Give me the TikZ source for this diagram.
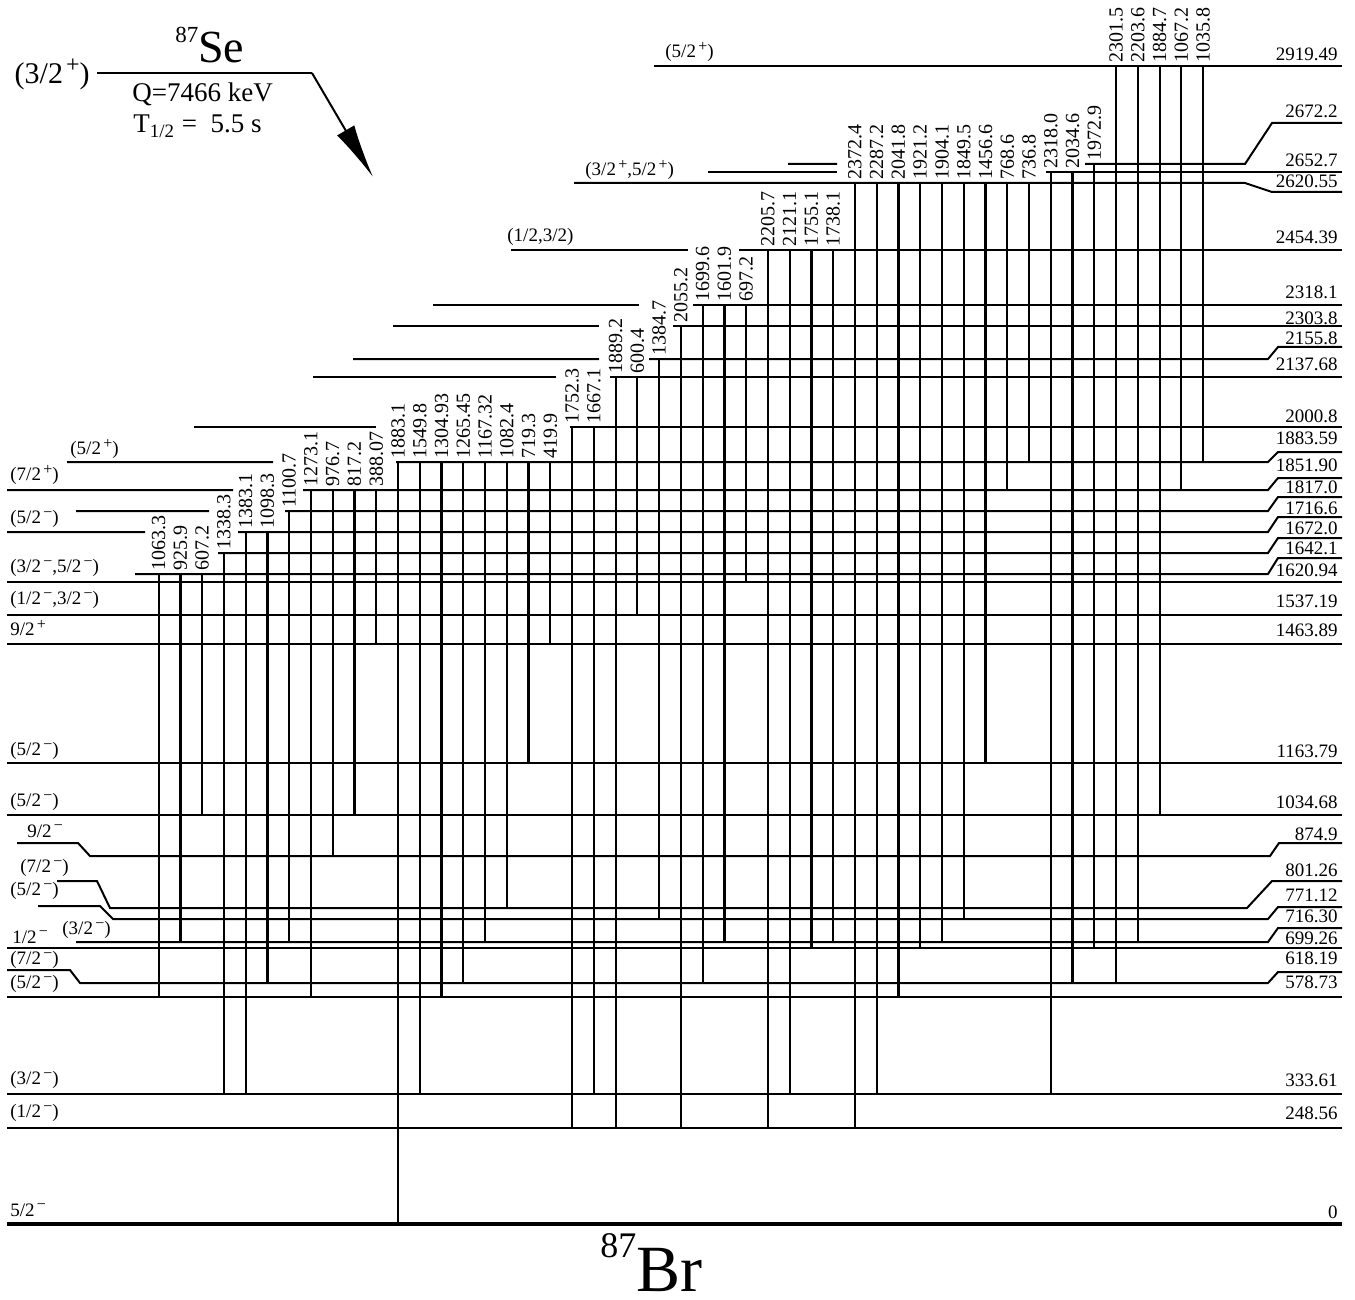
\documentclass[tikz,border=0pt]{standalone}
\usepackage{fontspec}
\setmainfont{Liberation Serif}
\usetikzlibrary{arrows.meta,calc}
\newcommand{\up}[1]{\kern0.12em\raisebox{0.75ex}{\fontsize{8}{9}\selectfont #1}}

\begin{document}
\begin{tikzpicture}[
  x=0.5pt, y=-0.5pt,
  font=\fontsize{9.5}{11}\selectfont,
  lev/.style={line width=1pt},
  gam/.style={line width=1.1pt},
  glab/.style={rotate=90,anchor=west,inner sep=1.2pt,font=\fontsize{10}{11}\selectfont},
  elab/.style={anchor=east,inner sep=0pt},
  slab/.style={anchor=west,inner sep=0pt},
  big/.style={anchor=base west,inner sep=0pt}
]
\useasboundingbox (0,0) rectangle (1355,1300);
\foreach \e/\y in {0/1224,248/1128,333/1094,578/997,618/983,699/948,716/942,
  771/919,801/908,874/856,1034/815,1163/763,1463/644,1537/615,1620/582,1642/574,
  1672/553,1716/532,1817/511,1851/490,1883/462,2000/427,2137/377,2155/359,
  2303/326,2318/305,2454/250,2620/183,2652/172,2672/164,2919/66}
  \coordinate (l\e) at (0,\y);

% parent
\coordinate (sp) at (97,73);
\coordinate (se0) at (312,73);
\coordinate (betaend) at (373,177);
\draw[lev] (sp) -- (se0);
\draw[lev,-{Latex[length=27pt,width=10pt]}] (se0) -- (betaend);
\node[big] (se) at (175,63) {\raisebox{10pt}{\fontsize{11.5}{12}\selectfont 87}\fontsize{23}{26}\selectfont Se};
\node[anchor=base east,inner sep=0pt] (spar) at (90,84) {\fontsize{15}{17}\selectfont (3/2\kern0.1em\raisebox{0.8ex}{\fontsize{12}{13}\selectfont +})};
\node[big] (qval) at (132,102) {\fontsize{13.5}{15}\selectfont Q=7466 keV};
\node[big] (thalf) at (133,133) {\fontsize{13.5}{15}\selectfont T\textsubscript{1/2} = \ 5.5 s};

% levels
\draw[line width=2.2pt] (7,1224) -- (1342,1224);
\draw[lev] (7,1128) -- (1342,1128);
\draw[lev] (7,1094) -- (1342,1094);
\draw[lev] (7,997) -- (1342,997);
\draw[lev] (7,970) -- (70,970) -- (80,983) -- (1268,983) -- (1278,972) -- (1342,972);
\draw[lev] (7,948) -- (1342,948);
\draw[lev] (76,942) -- (1268,942) -- (1278,928) -- (1342,928);
\draw[lev] (38,906) -- (100,906) -- (113,919) -- (1268,919) -- (1278,907) -- (1342,907);
\draw[lev] (57,881) -- (97,881) -- (110,908) -- (1247,908) -- (1272,881) -- (1342,881);
\draw[lev] (17,843) -- (78,843) -- (90,856) -- (1270,856) -- (1279,843) -- (1342,843);
\draw[lev] (7,815) -- (1342,815);
\draw[lev] (7,763) -- (1342,763);
\draw[lev] (7,644) -- (1342,644);
\draw[lev] (7,615) -- (1342,615);
\draw[lev] (7,582) -- (1342,582);
\draw[lev] (135,574) -- (1268,574) -- (1278,558) -- (1342,558);
\draw[lev] (218,553) -- (1268,553) -- (1278,538) -- (1342,538);
\draw[lev] (7,532) -- (145,532) (238,532) -- (1268,532) -- (1278,517) -- (1342,517);
\draw[lev] (76,511) -- (209,511) (285,511) -- (1268,511) -- (1278,497) -- (1342,497);
\draw[lev] (7,490) -- (233,490) (303,490) -- (1268,490) -- (1278,478) -- (1342,478);
\draw[lev] (67,462) -- (273,462) (396,462) -- (1268,462) -- (1278,452) -- (1342,452);
\draw[lev] (194,427) -- (376,427) (570,427) -- (1342,427);
\draw[lev] (313,377) -- (556,377) (610,377) -- (1342,377);
\draw[lev] (353,359) -- (599,359) (649,359) -- (1268,359) -- (1278,347) -- (1342,347);
\draw[lev] (393,326) -- (599,326) (673,326) -- (1342,326);
\draw[lev] (433,305) -- (639,305) (693,305) -- (1342,305);
\draw[lev] (511,250) -- (688,250) (739,250) -- (1342,250);
\draw[lev] (574,183) -- (1245,183) -- (1272,192) -- (1342,192);
\draw[lev] (708,172) -- (837,172) (1046,172) -- (1342,172);
\draw[lev] (788,164) -- (837,164) (1085,164) -- (1245,164) -- (1272,123) -- (1342,123);
\draw[lev] (654,66) -- (1342,66);

% gamma rays
\foreach \k/\a/\b/\g in {-11/1642/578/1063.3,-10/1642/716/925.9,-9/1642/1034/607.2,
  -8/1672/333/1338.3,-7/1716/333/1383.1,-6/1716/618/1098.3,-5/1817/716/1100.7,
  -4/1851/578/1273.1,-3/1851/874/976.7,-2/1851/1034/817.2,-1/1851/1463/388.07,
  0/1883/0/1883.1,1/1883/333/1549.8,2/1883/578/1304.93,3/1883/618/1265.45,
  4/1883/716/1167.32,5/1883/801/1082.4,6/1883/1163/719.3,7/1883/1463/419.9,
  8/2000/248/1752.3,9/2000/333/1667.1,10/2137/248/1889.2,11/2137/1537/600.4,
  12/2155/771/1384.7,13/2303/248/2055.2,14/2318/618/1699.6,15/2318/716/1601.9,
  16/2318/1620/697.2,17/2454/248/2205.7,18/2454/333/2121.1,19/2454/699/1755.1,
  20/2454/716/1738.1,21/2620/248/2372.4,22/2620/333/2287.2,23/2620/578/2041.8,
  24/2620/699/1921.2,25/2620/716/1904.1,26/2620/771/1849.5,27/2620/1163/1456.6,
  28/2620/1851/768.6,29/2620/1883/736.8,30/2652/333/2318.0,31/2652/618/2034.6,
  32/2672/699/1972.9,33/2919/618/2301.5,34/2919/716/2203.6,35/2919/1034/1884.7,
  36/2919/1851/1067.2,37/2919/1883/1035.8}
  \draw[gam] ($(l\a)+({398+21.76*\k},0)$) -- ($(l\b)+({398+21.76*\k},0)$)
    node[pos=0,glab] (g\k) {\g};

% energies
\foreach \e/\t/\y in {2919/2919.49/54,2672/2672.2/111,2652/2652.7/160,2620/2620.55/181,
  2454/2454.39/237,2318/2318.1/292,2303/2303.8/318,2155/2155.8/338,2137/2137.68/364,
  2000/2000.8/416,1883/1883.59/438,1851/1851.90/465,1817/1817.0/487,1716/1716.6/508,
  1672/1672.0/528,1642/1642.1/548,1620/1620.94/570,1537/1537.19/601,1463/1463.89/630,
  1163/1163.79/751,1034/1034.68/802,874/874.9/834,801/801.26/870,771/771.12/895,
  716/716.30/916,699/699.26/938,618/618.19/958,578/578.73/982,333/333.61/1080,
  248/248.56/1113,0/0/1212}
  \node[elab] (e\e) at (1338,\y) {\t};

% spins
\node[slab] (s2919) at (665,52) {(5/2\up{+})};
\node[slab] (s2620) at (585,170) {(3/2\up{+},5/2\up{+})};
\node[slab] (s2454) at (507,237) {(1/2,3/2)};
\node[slab] (s1883) at (70,449) {(5/2\up{+})};
\node[slab] (s1851) at (10,475) {(7/2\up{+})};
\node[slab] (s1716) at (10,519) {(5/2\up{−})};
\node[slab] (s1620) at (10,568) {(3/2\up{−},5/2\up{−})};
\node[slab] (s1537) at (10,600) {(1/2\up{−},3/2\up{−})};
\node[slab] (s1463) at (10,628) {9/2\up{+}};
\node[slab] (s1163) at (10,751) {(5/2\up{−})};
\node[slab] (s1034) at (10,802) {(5/2\up{−})};
\node[slab] (s874) at (27,831) {9/2\up{−}};
\node[slab] (s801) at (20,868) {(7/2\up{−})};
\node[slab] (s771) at (10,891) {(5/2\up{−})};
\node[slab] (s716) at (62,930) {(3/2\up{−})};
\node[slab] (s699) at (12,937) {1/2\up{−}};
\node[slab] (s618) at (10,960) {(7/2\up{−})};
\node[slab] (s578) at (10,984) {(5/2\up{−})};
\node[slab] (s333) at (10,1080) {(3/2\up{−})};
\node[slab] (s248) at (10,1113) {(1/2\up{−})};
\node[slab] (s0) at (10,1210) {5/2\up{−}};

\node[big] (br) at (600,1291) {\raisebox{17pt}{\fontsize{18}{19}\selectfont 87}\fontsize{33}{35}\selectfont Br};
\end{tikzpicture}
\end{document}
